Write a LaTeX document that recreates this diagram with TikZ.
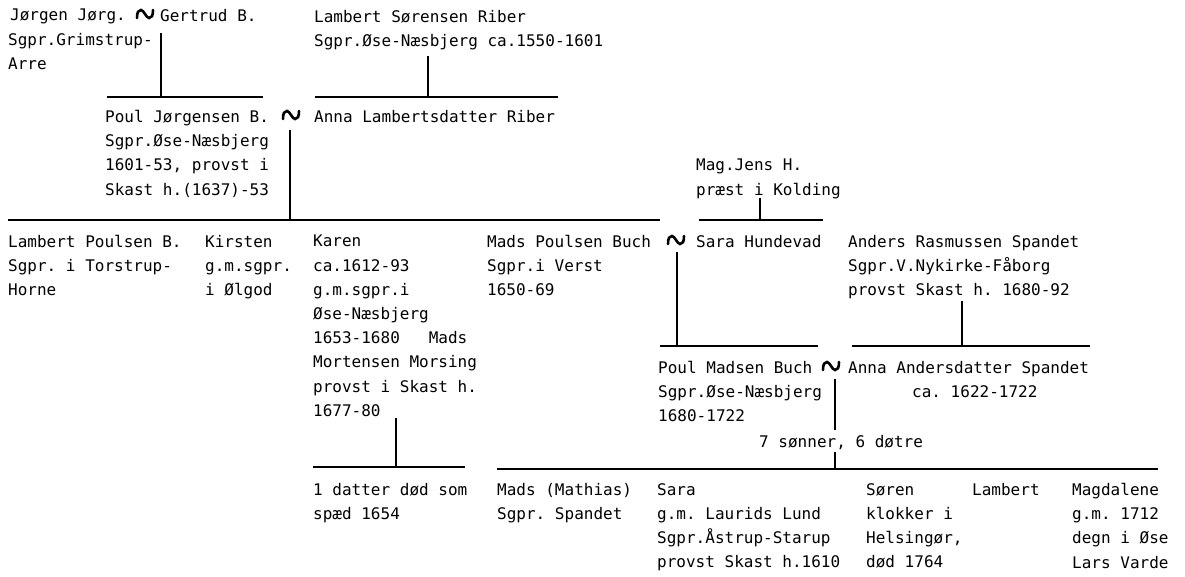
\documentclass[tikz,border=0pt]{standalone}
\usepackage{fontspec}
\setmonofont{DejaVu Sans Mono}
\usetikzlibrary{calc}

\tikzset{
    person/.style={anchor=north west, align=left, inner sep=0pt,
        font=\ttfamily\fontsize{16}{24.2}\selectfont},
    % the marriage wave
    wed/.style={minimum width=24pt, minimum height=16pt, inner sep=0pt,
        path picture={\draw[line width=2.6pt, line cap=round]
            ([shift={(-8pt,-4pt)}]path picture bounding box.center)
            .. controls +(0pt,6pt) and +(-2.6pt,0pt) .. ++(4pt,8pt)
            .. controls +(2.6pt,0pt) and +(-2.6pt,0pt) .. ++(8pt,-8pt)
            .. controls +(2.6pt,0pt) and +(0pt,-6pt) .. ++(4pt,8pt);}},
    bar/.style={line width=1.3pt},
}

\begin{document}
\begin{tikzpicture}[x=1pt,y=-1pt]
    \useasboundingbox (0,0) rectangle (1185,577);
    % Grandparents
    \node[person] (jorgen) at (10,9) {Jørgen Jørg.};
    \node[person] (jorgenb) at (8,33) {Sgpr.Grimstrup-\\Arre};
    \node[wed] (w1) at (145,14) {};
    \node[person] (gertrud) at (160,9) {Gertrud B.};
    \node[person] (lsr) at (314,10) {Lambert Sørensen Riber\\Sgpr.Øse-Næsbjerg ca.1550-1601};
    \coordinate (t1) at (161,33); \coordinate (j1) at (161,97);
    \coordinate (b1l) at (107,97); \coordinate (b1r) at (263,97);
    \coordinate (t2) at (428,56); \coordinate (j2) at (428,97);
    \coordinate (b2l) at (315,97); \coordinate (b2r) at (558,97);
    \draw[bar] (t1) -- (j1);
    \draw[bar] (b1l) -- (b1r);
    \draw[bar] (t2) -- (j2);
    \draw[bar] (b2l) -- (b2r);
    % Poul and Anna
    \node[person] (poul) at (105,110) {Poul Jørgensen B.\\Sgpr.Øse-Næsbjerg\\1601-53, provst i\\Skast h.(1637)-53};
    \node[wed] (w2) at (291,115) {};
    \node[person] (anna) at (314,110) {Anna Lambertsdatter Riber};
    \coordinate (t3) at (290,130); \coordinate (j3) at (290,220);
    \coordinate (b3l) at (8,220); \coordinate (b3r) at (660,220);
    \draw[bar] (t3) -- (j3);
    \draw[bar] (b3l) -- (b3r);
    % Sara's father
    \node[person] (jens) at (696,159) {Mag.Jens H.\\præst i Kolding};
    \coordinate (t4) at (760,198); \coordinate (j4) at (760,220);
    \coordinate (b4l) at (699,220); \coordinate (b4r) at (823,220);
    \draw[bar] (t4) -- (j4);
    \draw[bar] (b4l) -- (b4r);
    % Children of Poul
    \node[person] (lpb) at (8,235) {Lambert Poulsen B.\\Sgpr. i Torstrup-\\Horne};
    \node[person] (kirsten) at (205,235) {Kirsten\\g.m.sgpr.\\i Ølgod};
    \node[person] (karen) at (313,235) {Karen\\ca.1612-93\\g.m.sgpr.i\\Øse-Næsbjerg\\1653-1680\ \ \ Mads\\Mortensen Morsing\\provst i Skast h.\\1677-80};
    \node[person] (mads) at (487,235) {Mads Poulsen Buch\\Sgpr.i Verst\\1650-69};
    \node[wed] (w3) at (676,240) {};
    \node[person] (sara) at (696,235) {Sara Hundevad};
    \node[person] (anders) at (848,235) {Anders Rasmussen Spandet\\Sgpr.V.Nykirke-Fåborg\\provst Skast h. 1680-92};
    \coordinate (t5) at (677,252); \coordinate (j5) at (677,346);
    \coordinate (b5l) at (660,346); \coordinate (b5r) at (818,346);
    \coordinate (t6) at (962,301); \coordinate (j6) at (962,346);
    \coordinate (b6l) at (852,346); \coordinate (b6r) at (1090,346);
    \draw[bar] (t5) -- (j5);
    \draw[bar] (b5l) -- (b5r);
    \draw[bar] (t6) -- (j6);
    \draw[bar] (b6l) -- (b6r);
    % Karen's daughter
    \coordinate (t8) at (396,418); \coordinate (j8) at (396,467);
    \coordinate (b8l) at (313,467); \coordinate (b8r) at (465,467);
    \draw[bar] (t8) -- (j8);
    \draw[bar] (b8l) -- (b8r);
    \node[person] (datter) at (313,483) {1 datter død som\\spæd 1654};
    % Poul Madsen and Anna
    \node[person] (poulm) at (658,361) {Poul Madsen Buch\\Sgpr.Øse-Næsbjerg\\1680-1722};
    \node[wed] (w4) at (831,366) {};
    \node[person] (annaa) at (848,361) {Anna Andersdatter Spandet};
    \node[person] (annab) at (912,385) {ca. 1622-1722};
    \node[person] (kids) at (759,435) {7 sønner, 6 døtre};
    \coordinate (t7) at (835,379); \coordinate (m7) at (835,430);
    \coordinate (n7) at (835,452); \coordinate (j7) at (835,469);
    \coordinate (b7l) at (497,469); \coordinate (b7r) at (1158,469);
    \draw[bar] (t7) -- (m7);
    \draw[bar] (n7) -- (j7);
    \draw[bar] (b7l) -- (b7r);
    % Grandchildren
    \node[person] (madsm) at (497,483) {Mads (Mathias)\\Sgpr. Spandet};
    \node[person] (sarab) at (657,483) {Sara\\g.m. Laurids Lund\\Sgpr.Åstrup-Starup\\provst Skast h.1610};
    \node[person] (soren) at (866,483) {Søren\\klokker i\\Helsingør,\\død 1764};
    \node[person] (lambert) at (972,483) {Lambert};
    \node[person] (magda) at (1072,483) {Magdalene\\g.m. 1712\\degn i Øse\\Lars Varde};
\end{tikzpicture}
\end{document}
